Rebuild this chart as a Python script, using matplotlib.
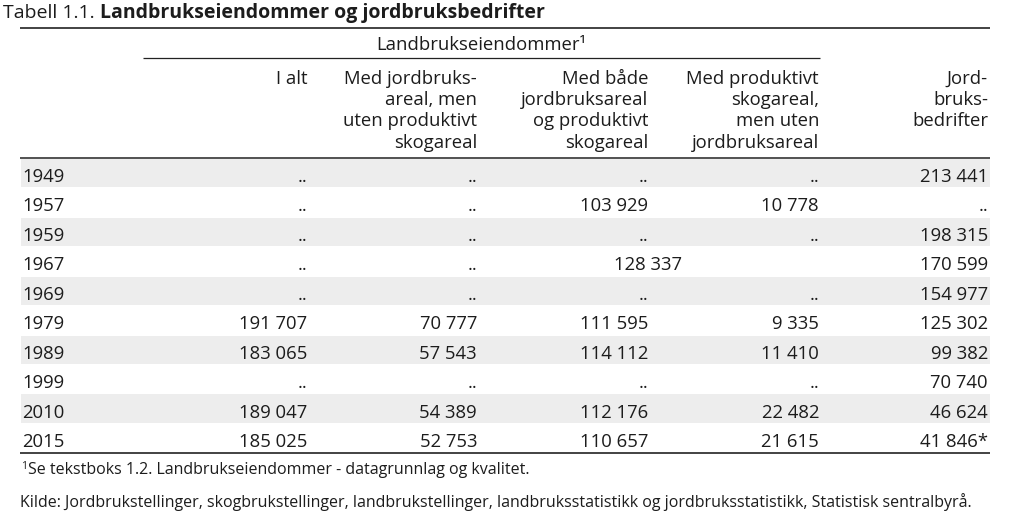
import matplotlib
matplotlib.use("Agg")
import matplotlib.pyplot as plt
from matplotlib.patches import Rectangle

# ---------------- data ----------------
title_prefix = "Tabell 1.1. "
title_main = "Landbrukseiendommer og jordbruksbedrifter"
group_label = "Landbrukseiendommer\u00b9"

col_headers = [
    ["I alt"],
    ["Med jordbruks-", "areal, men", "uten produktivt", "skogareal"],
    ["Med både", "jordbruksareal", "og produktivt", "skogareal"],
    ["Med produktivt", "skogareal,", "men uten", "jordbruksareal"],
    ["Jord-", "bruks-", "bedrifter"],
]

years = ["1949", "1957", "1959", "1967", "1969", "1979", "1989", "1999", "2010", "2015"]
i_alt = [None, None, None, None, None, 191707, 183065, None, 189047, 185025]
med_jord = [None, None, None, None, None, 70777, 57543, None, 54389, 52753]
med_begge = [None, 103929, None, 128337, None, 111595, 114112, None, 112176, 110657]
med_skog = [None, 10778, None, None, None, 9335, 11410, None, 22482, 21615]
bedrifter = [213441, None, 198315, 170599, 154977, 125302, 99382, 70740, 46624, 41846]
bedrifter_mark = ["", "", "", "", "", "", "", "", "", "*"]
merged_year = "1967"   # med_begge value spans both skogareal-columns this year

footnote = "Se tekstboks 1.2. Landbrukseiendommer - datagrunnlag og kvalitet."
source = ("Kilde: Jordbrukstellinger, skogbrukstellinger, landbrukstellinger, "
          "landbruksstatistikk og jordbruksstatistikk, Statistisk sentralbyrå.")

# ---------------- style ----------------
plt.rcParams['font.family'] = ['Open Sans', 'DejaVu Sans']
TXT = '#1c1c1c'
FS = 13.3
FS_TITLE = 14.0
FS_SMALL = 11.5
SHADE = '#ededed'

fig = plt.figure(figsize=(10.23, 5.23), dpi=100)
ax = fig.add_axes([0, 0, 1, 1])
ax.set_xlim(0, 1023)
ax.set_ylim(523, 0)
ax.axis('off')

def fmt(v):
    if v is None:
        return ".."
    return f"{v:,}".replace(",", " ")

# geometry (pixels)
left, right = 20, 990
col_right = [307, 477, 648, 819, 988]
year_x = 22
header_line_y = 158
row_h = 29.45
bottom_line_y = header_line_y + row_h * len(years)

# title
renderer = fig.canvas.get_renderer()
t1 = ax.text(3, 18, title_prefix, fontsize=FS_TITLE, color=TXT, va='baseline', ha='left')
bb = t1.get_window_extent(renderer=renderer)
x2 = ax.transData.inverted().transform((bb.x1, bb.y0))[0]
ax.text(x2, 18, title_main, fontsize=FS_TITLE, color=TXT, va='baseline', ha='left',
        fontweight='bold')

# rules
ax.plot([left, right], [28, 28], color='#222222', lw=1.2, solid_capstyle='butt')
ax.plot([143, 820], [58, 58], color='#222222', lw=0.9, solid_capstyle='butt')
ax.plot([left, right], [header_line_y, header_line_y], color='#333333', lw=1.2,
        solid_capstyle='butt')

# group header
ax.text((143 + 820) / 2, 50, group_label, fontsize=FS, color=TXT, ha='center',
        va='baseline')

# column headers
header_base = [83.5, 105, 126.5, 148]
for cx, lines in zip(col_right, col_headers):
    for k, line in enumerate(lines):
        ax.text(cx, header_base[k], line, fontsize=FS, color=TXT, ha='right',
                va='baseline')

# body rows
for i, yr in enumerate(years):
    top = header_line_y + i * row_h
    if i % 2 == 0:
        ax.add_patch(Rectangle((left + 1, top + 0.8), right - left - 1, row_h - 0.8,
                               facecolor=SHADE, edgecolor='none', zorder=0))
    base = top + 24
    ax.text(year_x, base, yr, fontsize=FS, color=TXT, ha='left', va='baseline')
    ax.text(col_right[0], base, fmt(i_alt[i]), fontsize=FS, color=TXT, ha='right', va='baseline')
    ax.text(col_right[1], base, fmt(med_jord[i]), fontsize=FS, color=TXT, ha='right', va='baseline')
    if yr == merged_year:
        ax.text((col_right[1] + col_right[3]) / 2, base, fmt(med_begge[i]), fontsize=FS,
                color=TXT, ha='center', va='baseline')
    else:
        ax.text(col_right[2], base, fmt(med_begge[i]), fontsize=FS, color=TXT, ha='right', va='baseline')
        ax.text(col_right[3], base, fmt(med_skog[i]), fontsize=FS, color=TXT, ha='right', va='baseline')
    ax.text(col_right[4], base, fmt(bedrifter[i]) + bedrifter_mark[i], fontsize=FS, color=TXT,
            ha='right', va='baseline')

ax.plot([left, right], [bottom_line_y, bottom_line_y], color='#222222', lw=1.2,
        solid_capstyle='butt')

# footnotes
ax.text(21, 469, "1", fontsize=7.5, color=TXT, ha='left', va='baseline')
ax.text(28, 474, footnote, fontsize=FS_SMALL, color=TXT, ha='left', va='baseline')
ax.text(20, 507, source, fontsize=FS_SMALL, color=TXT, ha='left', va='baseline')

fig.savefig("out.png", dpi=100, facecolor='white')
